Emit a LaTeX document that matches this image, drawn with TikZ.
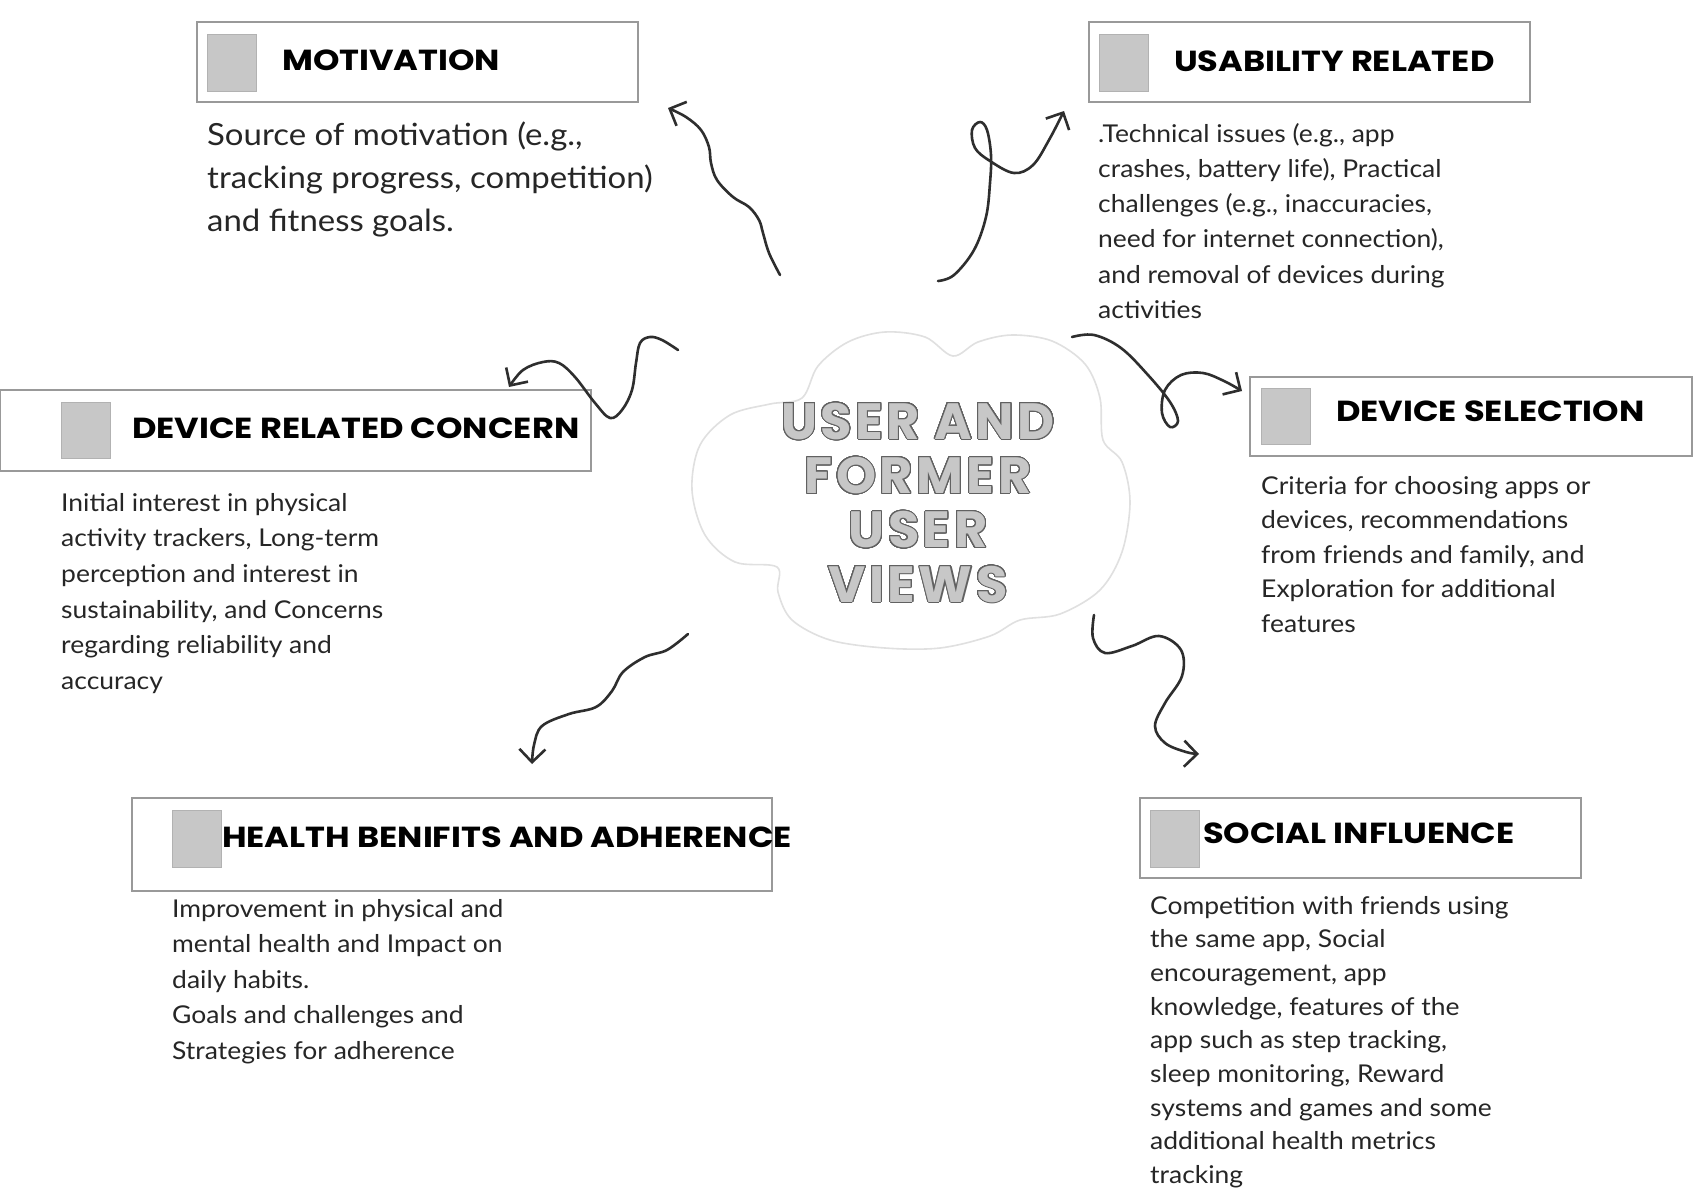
\documentclass[tikz,border=0pt]{standalone}
\usepackage{fontspec}
\setmainfont{Lato}[FakeStretch=1.08]
\newfontfamily\headfont{Poppins}[FakeStretch=1.16]
\newfontfamily\centfont{Poppins}[LetterSpace=7]
\usepackage{contour}
\contourlength{1.0pt}
\contournumber{32}
\usetikzlibrary{arrows.meta}
\newcommand\ctl[1]{\contour{black!62}{#1}}
\tikzset{
  box/.style={draw=black!40, line width=1.4pt, fill=white},
  sq/.style={draw=black!30, line width=0.8pt, fill=black!22},
  head/.style={anchor=base west, inner sep=0pt, font=\headfont\bfseries\fontsize{29}{29}\selectfont, text=black},
  body/.style={anchor=base west, inner sep=0pt, align=left, text=black!85,
     font=\fontsize{24.5}{35.4}\selectfont},
  bigbody/.style={anchor=base west, inner sep=0pt, align=left, text=black!85,
     font=\fontsize{30.5}{43}\selectfont},
  arr/.style={line width=2.6pt, draw=black!82, line cap=round, line join=round,
     -{Straight Barb[length=13pt,width=26pt,line width=2.6pt]}},
  cloud/.style={draw=black!12, line width=1.6pt, fill=white},
}
\begin{document}
\begin{tikzpicture}[x=1pt,y=-1pt]
\useasboundingbox (0,0) rectangle (1701,1197);
\fill[white] (0,0) rectangle (1701,1197);

% cloud
\draw[cloud] plot[smooth cycle, tension=0.55] coordinates {
 (802,398) (818,366) (848,342) (885,332) (925,337) (953,356)
 (978,342) (1012,335) (1052,341) (1085,364) (1100,398) (1103,440)
 (1122,462) (1130,502) (1122,552) (1100,590) (1060,614) (1020,620)
 (990,636) (940,648) (885,648) (830,640) (792,620) (778,592) (777,567)
 (735,562) (705,535) (692,490) (700,445) (730,415) (770,404)};

% multi-line nodes: base anchor = baseline of the last line
\node[anchor=base, align=center, inner sep=0pt, text=black!22,
      font=\centfont\bfseries\fontsize{51}{54.3}\selectfont] (center) at (918,602)
  {\ctl{USER AND}\\\ctl{FORMER}\\\ctl{USER}\\\ctl{VIEWS}};

% boxes
\draw[box] (197,22) rectangle (638,102);
\node[sq, minimum width=49pt, minimum height=57pt, inner sep=0pt] (sqm) at (231.5,62.5) {};
\node[head] (tm) at (282,70) {MOTIVATION};
\node[bigbody] (bm) at (207,231) {Source of motivation (e.g.,\\tracking progress, competition)\\and fitness goals.};

\draw[box] (1089,22) rectangle (1530,102);
\node[sq, minimum width=49pt, minimum height=57pt, inner sep=0pt] (squ) at (1124,62.5) {};
\node[head] (tu) at (1174,71) {USABILITY RELATED};
\node[body, font=\fontsize{24.5}{35.3}\selectfont] (bu) at (1098,318.5) {.Technical issues (e.g., app\\crashes, battery life), Practical\\challenges (e.g., inaccuracies,\\need for internet connection),\\and removal of devices during\\activities};

\draw[box] (1250,377) rectangle (1692,456);
\node[sq, minimum width=49pt, minimum height=56pt, inner sep=0pt] (sqs) at (1285.5,416) {};
\node[head] (ts) at (1336,421) {DEVICE SELECTION};
\node[body, font=\fontsize{24.5}{34.5}\selectfont] (bs) at (1261,632) {Criteria for choosing apps or\\devices, recommendations\\from friends and family, and\\Exploration for additional\\features};

\draw[box] (0,390) rectangle (591,471);
\node[sq, minimum width=49pt, minimum height=56pt, inner sep=0pt] (sqc) at (85.5,430) {};
\node[head] (tc) at (132,438) {DEVICE RELATED CONCERN};
\node[body, font=\fontsize{24.5}{35.7}\selectfont] (bc) at (61,689.5) {Initial interest in physical\\activity trackers, Long-term\\perception and interest in\\sustainability, and Concerns\\regarding reliability and\\accuracy};

\draw[box] (132,798) rectangle (772,891);
\node[sq, minimum width=49pt, minimum height=57pt, inner sep=0pt] (sqh) at (196.5,838.5) {};
\node[head] (th) at (222,847) {HEALTH BENIFITS AND ADHERENCE};
\node[body, font=\fontsize{24.5}{35.5}\selectfont] (bh) at (172,1059) {Improvement in physical and\\mental health and Impact on\\daily habits.\\Goals and challenges and\\Strategies for adherence};

\draw[box] (1140,798) rectangle (1581,878);
\node[sq, minimum width=49pt, minimum height=57pt, inner sep=0pt] (sqi) at (1174.5,838.5) {};
\node[head] (ti) at (1203,843) {SOCIAL INFLUENCE};
\node[body, font=\fontsize{24.5}{33.7}\selectfont] (bi) at (1150,1183.6) {Competition with friends using\\the same app, Social\\encouragement, app\\knowledge, features of the\\app such as step tracking,\\sleep monitoring, Reward\\systems and games and some\\additional health metrics\\tracking};

% arrows
\draw[arr] plot[smooth, tension=0.6] coordinates {(780,275) (769,253) (763,233) (759,220) (749,207) (733,197) (717,180) (711,163) (709,147) (701,130) (686,117) (668,108)};
\draw[arr] plot[smooth, tension=0.6] coordinates {(938,281) (954,275) (974,250) (986,217) (990,183) (991,155) (987,130) (980,122) (972,130) (975,148) (990,161) (1014,173) (1033,165) (1049,140) (1064,111)};
\draw[arr] plot[smooth, tension=0.6] coordinates {(678,350) (662,340) (650,337) (640,343) (636,363) (632,390) (622,410) (610,418) (595,403) (575,377) (559,363) (543,362) (523,370) (509,387)};
\draw[arr] plot[smooth, tension=0.6] coordinates {(1072,337) (1094,335) (1121,348) (1148,375) (1170,402) (1178,421) (1170,427) (1162,413) (1165,390) (1181,375) (1203,373) (1224,381) (1242,391)};
\draw[arr] plot[smooth, tension=0.6] coordinates {(688,634) (667,650) (645,657) (623,672) (612,691) (596,707) (569,714) (542,726) (534,745) (532,764)};
\draw[arr] plot[smooth, tension=0.6] coordinates {(1094,615) (1093,638) (1105,653) (1132,646) (1159,636) (1181,650) (1182,676) (1165,703) (1155,726) (1165,743) (1186,752) (1199,754)};
\end{tikzpicture}
\end{document}
